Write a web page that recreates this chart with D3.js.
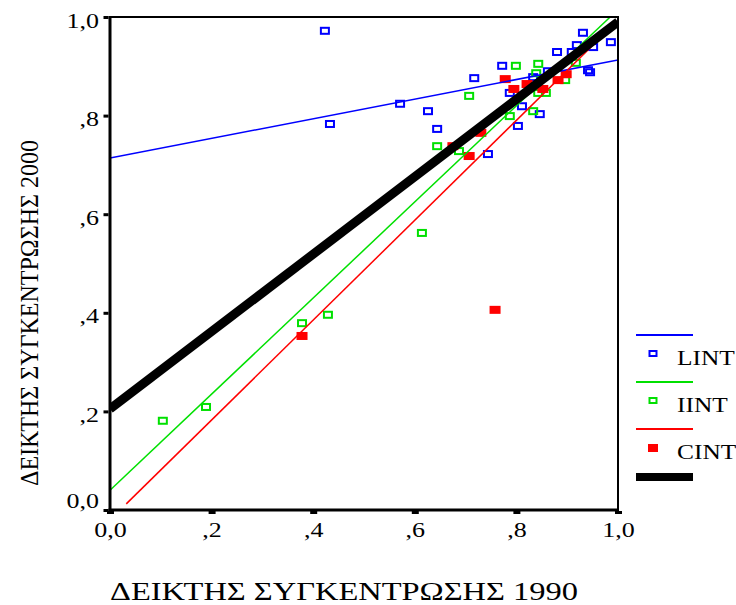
<!DOCTYPE html>
<html>
  <head>
    <meta charset="utf-8">
    <title>ΔΕΙΚΤΗΣ ΣΥΓΚΕΝΤΡΩΣΗΣ 1990 / 2000</title>
    <script src="https://d3js.org/d3.v7.min.js"></script>
    <style>
      body { margin: 0; background: white; }
      svg { display: block; font-family: "Liberation Serif", "Times New Roman", serif; }
      .axis path { display: none; }
      .axis text { font-size: 20px; fill: black; font-family: "Liberation Serif", serif; }
    </style>
  </head>
  <body>
    <svg id="chart" width="736" height="605"></svg>
    <script>
      // chart data (1990 index, 2000 index)
      const lintPoints = [
        [0.423, 0.972], [0.433, 0.783], [0.571, 0.824], [0.626, 0.809], [0.644, 0.773],
        [0.717, 0.876], [0.744, 0.722], [0.772, 0.901], [0.787, 0.846], [0.803, 0.779],
        [0.811, 0.819], [0.833, 0.878], [0.846, 0.803], [0.862, 0.890], [0.880, 0.929],
        [0.909, 0.929], [0.919, 0.943], [0.931, 0.968], [0.951, 0.939], [0.941, 0.892],
        [0.945, 0.888], [0.986, 0.949]
      ];
      const iintPoints = [
        [0.104, 0.181], [0.189, 0.209], [0.378, 0.379], [0.429, 0.396], [0.614, 0.562],
        [0.644, 0.738], [0.687, 0.728], [0.707, 0.840], [0.787, 0.799], [0.799, 0.901],
        [0.833, 0.809], [0.839, 0.886], [0.843, 0.905], [0.843, 0.846], [0.858, 0.846],
        [0.896, 0.872], [0.917, 0.907]
      ];
      const cintPoints = [
        [0.378, 0.353], [0.675, 0.738], [0.707, 0.718], [0.730, 0.765], [0.758, 0.406],
        [0.778, 0.874], [0.795, 0.854], [0.821, 0.864], [0.852, 0.854], [0.882, 0.872],
        [0.898, 0.884]
      ];
      // fitted lines: LINT, IINT, CINT, total
      const fitNames = ["LINT", "IINT", "CINT", "TOTAL"];
      const fitIntercepts = [0.714, 0.04, -0.02, 0.205];
      const fitSlopes = [0.199, 0.975, 1.013, 0.785];
      const fitStarts = [0, 0, 0.032, 0];
      const tickValues = [0, 0.2, 0.4, 0.6, 0.8, 1];
      const tickLabels = ["0,0", ",2", ",4", ",6", ",8", "1,0"];
      const xTitle = "ΔΕΙΚΤΗΣ ΣΥΓΚΕΝΤΡΩΣΗΣ 1990";
      const yTitle = "ΔΕΙΚΤΗΣ ΣΥΓΚΕΝΤΡΩΣΗΣ 2000";

      const colours = { LINT: "#0000ff", IINT: "#00e000", CINT: "#ff0000", TOTAL: "#000000" };
      const lineWidths = { LINT: 1.5, IINT: 1.5, CINT: 1.5, TOTAL: 9 };

      const svg = d3.select("#chart");
      const plot = { left: 110, right: 618, top: 17, bottom: 510 };
      const x = d3.scaleLinear().domain([0, 1]).range([plot.left, plot.right]);
      const y = d3.scaleLinear().domain([0, 1]).range([plot.bottom, plot.top]);

      // stretch text horizontally like the original output
      function stretch(sel, k) {
        sel.each(function() {
          const w = this.getComputedTextLength();
          d3.select(this).attr("textLength", w * k).attr("lengthAdjust", "spacingAndGlyphs");
        });
      }

      svg.append("rect").attr("width", 736).attr("height", 605).attr("fill", "white");

      svg.append("defs").append("clipPath").attr("id", "plotClip")
        .append("rect")
          .attr("x", plot.left).attr("y", plot.top)
          .attr("width", plot.right - plot.left).attr("height", plot.bottom - plot.top);

      // points
      const pointGroup = svg.append("g");
      function openSquares(data, name) {
        pointGroup.selectAll(".p-" + name)
          .data(data)
          .enter().append("rect")
            .attr("class", "p-" + name)
            .attr("x", d => x(d[0]) - 4)
            .attr("y", d => y(d[1]) - 3)
            .attr("width", 8)
            .attr("height", 6)
            .attr("fill", "none")
            .attr("stroke", colours[name])
            .attr("stroke-width", 2);
      }
      openSquares(lintPoints, "LINT");
      openSquares(iintPoints, "IINT");
      pointGroup.selectAll(".p-CINT")
        .data(cintPoints)
        .enter().append("rect")
          .attr("x", d => x(d[0]) - 5.5)
          .attr("y", d => y(d[1]) - 4)
          .attr("width", 11)
          .attr("height", 8)
          .attr("fill", colours.CINT);

      // fit lines
      const line = d3.line().x(d => x(d[0])).y(d => y(d[1]));
      svg.append("g").attr("clip-path", "url(#plotClip)")
        .selectAll("path")
          .data(fitNames)
        .enter().append("path")
          .attr("d", (n, i) => {
            const x0 = fitStarts[i];
            const x1 = Math.min(1, (1 - fitIntercepts[i]) / fitSlopes[i]);
            return line([[x0, fitIntercepts[i] + fitSlopes[i] * x0], [x1, fitIntercepts[i] + fitSlopes[i] * x1]]);
          })
          .attr("fill", "none")
          .attr("stroke", n => colours[n])
          .attr("stroke-width", n => lineWidths[n]);

      // frame
      svg.append("line").attr("x1", plot.left).attr("x2", plot.right).attr("y1", plot.top).attr("y2", plot.top)
        .attr("stroke", "black").attr("stroke-width", 2);
      svg.append("line").attr("x1", plot.right).attr("x2", plot.right).attr("y1", plot.top - 1).attr("y2", plot.bottom)
        .attr("stroke", "black").attr("stroke-width", 2);
      svg.append("line").attr("x1", plot.left).attr("x2", plot.left).attr("y1", plot.top - 1).attr("y2", plot.bottom + 1.5)
        .attr("stroke", "black").attr("stroke-width", 3);
      svg.append("line").attr("x1", plot.left - 1.5).attr("x2", plot.right + 1).attr("y1", plot.bottom).attr("y2", plot.bottom)
        .attr("stroke", "black").attr("stroke-width", 3);

      // axes
      const xAxis = d3.axisBottom(x).tickValues(tickValues).tickFormat((d, i) => tickLabels[i]).tickSize(0);
      const xg = svg.append("g").attr("class", "axis").attr("transform", "translate(0," + plot.bottom + ")").call(xAxis);
      xg.selectAll(".tick").append("rect").attr("x", -3.5).attr("y", 1).attr("width", 7).attr("height", 3).attr("fill", "black");
      xg.selectAll(".tick text").attr("y", 27).attr("dy", 0).call(stretch, 1.3);

      const yAxis = d3.axisLeft(y).tickValues(tickValues).tickFormat((d, i) => tickLabels[i]).tickSize(0);
      const yg = svg.append("g").attr("class", "axis").attr("transform", "translate(" + plot.left + ",0)").call(yAxis);
      yg.selectAll(".tick").append("rect").attr("x", -6.5).attr("y", -1.5).attr("width", 5).attr("height", 3).attr("fill", "black");
      yg.selectAll(".tick text")
        .attr("x", -11)
        .attr("dy", 0)
        .attr("y", d => d === 0 ? -3 : 10)
        .call(stretch, 1.3);

      // axis titles
      svg.append("text")
        .attr("x", 110).attr("y", 600)
        .attr("font-size", 26)
        .attr("textLength", 468).attr("lengthAdjust", "spacingAndGlyphs")
        .text(xTitle);
      svg.append("text")
        .attr("transform", "translate(38,486) rotate(-90)")
        .attr("font-size", 26)
        .attr("textLength", 346).attr("lengthAdjust", "spacingAndGlyphs")
        .text(yTitle);

      // legend
      const legend = svg.append("g");
      const legendRows = [335, 382, 429];
      ["LINT", "IINT", "CINT"].forEach((n, i) => {
        const ly = legendRows[i];
        legend.append("line").attr("x1", 636).attr("x2", 693).attr("y1", ly).attr("y2", ly)
          .attr("stroke", colours[n]).attr("stroke-width", 2);
        if (n === "CINT") {
          legend.append("rect").attr("x", 648).attr("y", ly + 15).attr("width", 10).attr("height", 8).attr("fill", colours[n]);
        } else {
          legend.append("rect").attr("x", 649.5).attr("y", ly + 16).attr("width", 7).attr("height", 5)
            .attr("fill", "none").attr("stroke", colours[n]).attr("stroke-width", 2);
        }
        legend.append("text").attr("x", 677).attr("y", ly + 30).attr("font-size", 20).text(n).call(stretch, 1.27);
      });
      legend.append("line").attr("x1", 636).attr("x2", 693).attr("y1", 477).attr("y2", 477)
        .attr("stroke", colours.TOTAL).attr("stroke-width", 8);
    </script>
  </body>
</html>
